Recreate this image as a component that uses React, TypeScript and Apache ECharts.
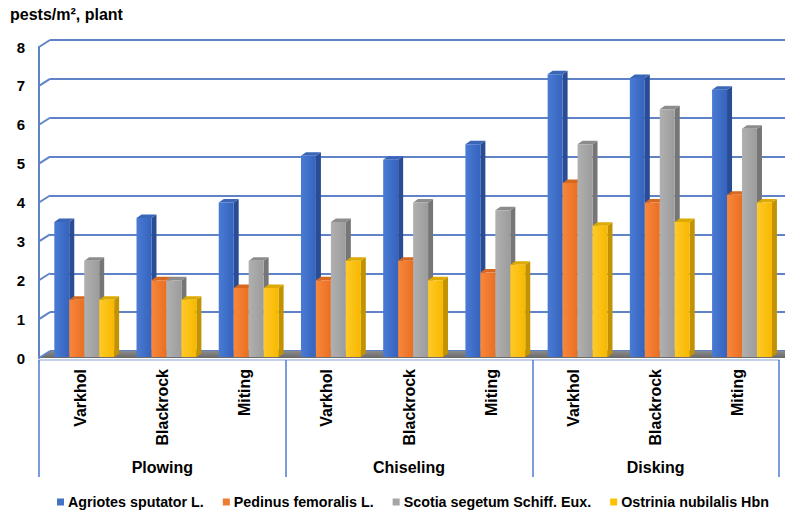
import React, { useEffect, useRef } from "react";
import * as echarts from "echarts";

const varieties = ["Varkhol", "Blackrock", "Miting", "Varkhol", "Blackrock", "Miting", "Varkhol", "Blackrock", "Miting"];
const tillage = ["Plowing", "Chiseling", "Disking"];
const yTicks = [0, 1, 2, 3, 4, 5, 6, 7, 8];
const seriesNames = ["Agriotes sputator L.", "Pedinus femoralis L.", "Scotia segetum Schiff. Eux.", "Ostrinia nubilalis Hbn"];
const agriotes = [3.5, 3.6, 4.0, 5.2, 5.1, 5.5, 7.3, 7.2, 6.9];
const pedinus = [1.5, 2.0, 1.8, 2.0, 2.5, 2.2, 4.5, 4.0, 4.2];
const scotia = [2.5, 2.0, 2.5, 3.5, 4.0, 3.8, 5.5, 6.4, 5.9];
const ostrinia = [1.5, 1.5, 1.8, 2.5, 2.0, 2.4, 3.4, 3.5, 4.0];

const palette = [
  { front: ["#4a7bd4", "#3563bd"], side: "#2a4c94", top: "#3a66b8", legend: "#4472c4" },
  { front: ["#f7873c", "#ea6f22"], side: "#b8581a", top: "#d6681f", legend: "#ed7d31" },
  { front: ["#b0b0b0", "#9c9c9c"], side: "#767676", top: "#8c8c8c", legend: "#a5a5a5" },
  { front: ["#ffc928", "#f7b800"], side: "#c29200", top: "#dcaa00", legend: "#ffc000" },
];

const FONT = "'Liberation Sans', Arial, sans-serif";
const GRID_BLUE = "#5f83c6";
const DX = 11;
const DY = 7;

export default function App() {
  const ref = useRef<HTMLDivElement>(null);
  useEffect(() => {
    if (!ref.current) return;
    const chart = echarts.init(ref.current, undefined, { renderer: "svg" });
    const values = [agriotes, pedinus, scotia, ostrinia];

    const barSeries = values.map((arr, k) => ({
      type: "custom",
      name: seriesNames[k],
      xAxisIndex: 0,
      yAxisIndex: 0,
      z: 5,
      itemStyle: { color: palette[k].legend },
      encode: { x: 0, y: 1 },
      data: arr.map((v, i) => [i, v]),
      renderItem: (params: any, api: any) => {
        const idx = api.value(0);
        const v = api.value(1);
        const top = api.coord([idx, v]);
        const base = api.coord([idx, 0]);
        const cw = api.size([1, 0])[0];
        const bw = cw * 0.182;
        const x0 = top[0] - 2 * bw + cw * 0.05 + k * bw;
        const x1 = x0 + bw;
        const yT = top[1];
        const yB = base[1] - 1;
        const dx = 5;
        const dy = 3.5;
        const p = palette[k];
        return {
          type: "group",
          children: [
            {
              type: "polygon",
              shape: { points: [[x1, yB], [x1 + dx, yB - dy], [x1 + dx, yT - dy], [x1, yT]] },
              style: { fill: p.side },
            },
            {
              type: "polygon",
              shape: { points: [[x0, yT], [x1, yT], [x1 + dx, yT - dy], [x0 + dx, yT - dy]] },
              style: { fill: p.top },
            },
            {
              type: "rect",
              shape: { x: x0, y: yT, width: bw, height: yB - yT },
              style: {
                fill: new echarts.graphic.LinearGradient(0, 0, 1, 0, [
                  { offset: 0, color: p.front[0] },
                  { offset: 1, color: p.front[1] },
                ]),
              },
            },
          ],
        };
      },
    }));

    const option: any = {
      animation: false,
      title: {
        text: "pests/m², plant",
        left: 10,
        top: 6,
        padding: 0,
        textStyle: { fontFamily: FONT, fontSize: 16, fontWeight: "bold", color: "#000" },
      },
      legend: {
        data: seriesNames,
        left: 57,
        top: 495,
        icon: "rect",
        itemWidth: 7,
        itemHeight: 7,
        itemGap: 19,
        padding: 0,
        textStyle: { fontFamily: FONT, fontSize: 14.3, fontWeight: "bold", color: "#000", padding: [0, 0, 0, -1] },
      },
      grid: [
        { left: 39, right: 6, top: 47, bottom: 153 },
        { left: 39 + DX, right: 0, top: 47 - DY, bottom: 153 + DY },
      ],
      xAxis: [
        {
          type: "category",
          gridIndex: 0,
          data: varieties,
          axisLine: { show: false },
          axisTick: { show: false },
          axisLabel: {
            rotate: 90,
            margin: 11,
            fontFamily: FONT,
            fontSize: 16,
            fontWeight: "bold",
            color: "#000",
            interval: 0,
          },
        },
        {
          type: "category",
          gridIndex: 0,
          position: "bottom",
          offset: 2,
          data: tillage,
          axisLine: { show: true, lineStyle: { color: "#c3cfe6", width: 2 } },
          axisTick: { show: true, length: 117, interval: 0, lineStyle: { color: "#4f7bd0", width: 1.5 } },
          axisLabel: {
            margin: 99,
            fontFamily: FONT,
            fontSize: 16,
            fontWeight: "bold",
            color: "#000",
            interval: 0,
          },
        },
        { type: "value", gridIndex: 1, show: false, min: 0, max: 1 },
      ],
      yAxis: [
        {
          type: "value",
          gridIndex: 0,
          min: 0,
          max: 8,
          interval: 1,
          axisLine: { show: true, onZero: false, lineStyle: { color: GRID_BLUE, width: 2 } },
          axisTick: { show: false },
          splitLine: { show: false },
          axisLabel: { margin: 14, fontFamily: FONT, fontSize: 15, fontWeight: "bold", color: "#000" },
        },
        {
          type: "value",
          gridIndex: 1,
          min: 0,
          max: 8,
          interval: 1,
          axisLine: { show: false },
          axisTick: { show: false },
          axisLabel: { show: false },
          splitLine: { show: true, lineStyle: { color: GRID_BLUE, width: 2 } },
        },
      ],
      series: [
        {
          type: "custom",
          name: "floor",
          xAxisIndex: 0,
          yAxisIndex: 0,
          silent: true,
          z: 1,
          data: [[0, 0]],
          renderItem: (params: any, api: any) => {
            const cs = params.coordSys;
            const y0 = api.coord([0, 0])[1];
            const xl = cs.x;
            const xr = cs.x + cs.width + 6;
            return {
              type: "polygon",
              shape: { points: [[xl, y0], [xr, y0], [xr, y0 - DY], [xl + DX, y0 - DY]] },
              style: {
                fill: new echarts.graphic.LinearGradient(0, 1, 0, 0, [
                  { offset: 0, color: "#6a6a6a" },
                  { offset: 1, color: "#8a8a8a" },
                ]),
              },
            };
          },
        },
        {
          type: "custom",
          name: "diag",
          xAxisIndex: 0,
          yAxisIndex: 0,
          silent: true,
          z: 1,
          data: yTicks.map((v) => [0, v]),
          renderItem: (params: any, api: any) => {
            const cs = params.coordSys;
            const y = api.coord([0, api.value(1)])[1];
            const x = cs.x;
            return {
              type: "line",
              shape: { x1: x, y1: y, x2: x + DX, y2: y - DY },
              style: { stroke: GRID_BLUE, lineWidth: 2 },
            };
          },
        },
        ...barSeries,
      ],
    };
    chart.setOption(option);
    return () => chart.dispose();
  }, []);

  return (
    <div
      ref={ref}
      style={{ position: "fixed", left: 0, top: 0, width: 785, height: 511, background: "#fff" }}
    />
  );
}
